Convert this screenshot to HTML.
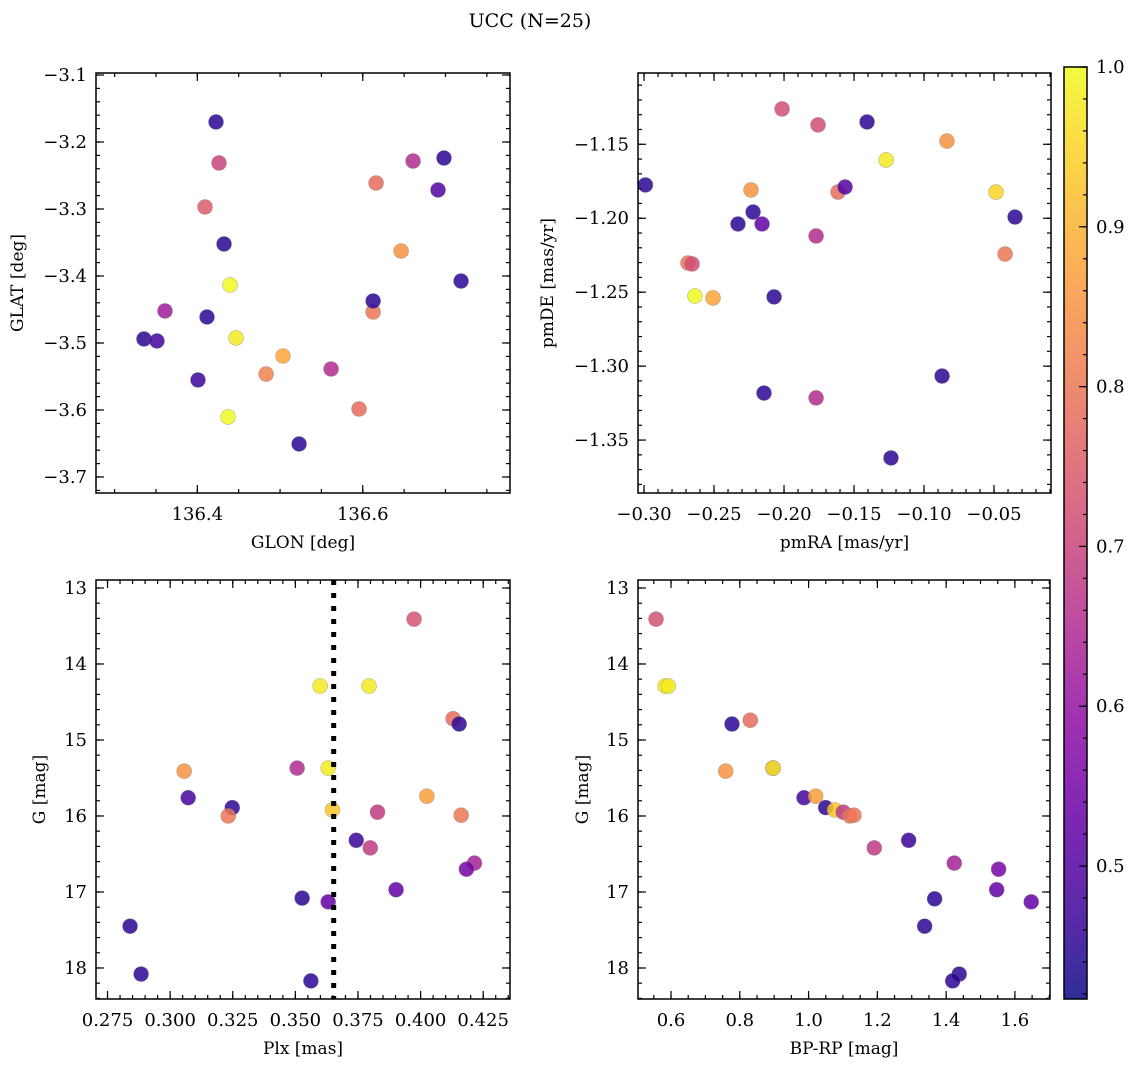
<!DOCTYPE html>
<html><head><meta charset="utf-8">
<style>
html,body{margin:0;padding:0;background:#fff;}
svg{display:block;font-family:"DejaVu Serif","Liberation Serif",serif;}
</style></head>
<body>
<svg id="fig" width="1136" height="1067" viewBox="0 0 1136 1067" xmlns="http://www.w3.org/2000/svg">
<text x="530" y="27" font-size="19" text-anchor="middle">UCC (N=25)</text>
</svg>
<script>
// ---- data ----
const glon = [136.4226,136.4262,136.4093,136.4323,136.4395,136.4117,136.4468,136.3609,136.3355,136.3512,136.4008,136.4371,136.4831,136.5036,136.5230,136.5617,136.5955,136.6125,136.6125,136.6161,136.6463,136.6608,136.6982,136.6910,136.7188];
const glat = [-3.1701,-3.2313,-3.2970,-3.3522,-3.4134,-3.4612,-3.4925,-3.4522,-3.4940,-3.4970,-3.5552,-3.6104,-3.5463,-3.5194,-3.6507,-3.5388,-3.5985,-3.4537,-3.4373,-3.2612,-3.3627,-3.2284,-3.2239,-3.2716,-3.4075];
const probA = [0.45,0.70,0.75,0.45,1.0,0.45,0.98,0.62,0.45,0.48,0.47,1.0,0.82,0.88,0.45,0.65,0.78,0.80,0.45,0.78,0.85,0.65,0.45,0.50,0.45];

const pmra = [-0.2990,-0.2329,-0.2221,-0.2157,-0.2236,-0.2686,-0.2657,-0.2636,-0.2507,-0.2071,-0.2143,-0.2014,-0.1757,-0.1771,-0.1771,-0.1614,-0.1564,-0.1407,-0.1271,-0.1236,-0.0836,-0.0871,-0.0486,-0.0421,-0.0350];
const pmde = [-1.1775,-1.2039,-1.1958,-1.2039,-1.1809,-1.2303,-1.2309,-1.2526,-1.2539,-1.2532,-1.3182,-1.1261,-1.1369,-1.2120,-1.3215,-1.1823,-1.1789,-1.1349,-1.1606,-1.3621,-1.1478,-1.3067,-1.1823,-1.2242,-1.1992];
const probB = [0.45,0.45,0.45,0.52,0.85,0.80,0.72,1.0,0.88,0.45,0.45,0.72,0.72,0.65,0.65,0.78,0.50,0.45,0.98,0.45,0.85,0.45,0.95,0.80,0.45];

const plx = [0.3974,0.3599,0.3794,0.4130,0.4154,0.3056,0.3507,0.3631,0.3072,0.4025,0.3248,0.3232,0.3648,0.3828,0.4162,0.3743,0.3799,0.4215,0.4183,0.3902,0.3527,0.3631,0.2840,0.2884,0.3562];
const gmagC = [13.41,14.29,14.29,14.72,14.79,15.41,15.37,15.37,15.76,15.74,15.89,16.00,15.92,15.95,15.99,16.32,16.42,16.62,16.70,16.97,17.08,17.13,17.45,18.08,18.17];
const probC = [0.73,0.98,0.98,0.78,0.45,0.85,0.65,0.98,0.48,0.87,0.45,0.80,0.93,0.68,0.80,0.47,0.68,0.63,0.55,0.52,0.45,0.52,0.45,0.45,0.45];
const plxRef = [0.3653];

const bprp = [0.5564,0.5826,0.5922,0.7773,0.8305,0.7590,0.8965,0.8970,0.9866,1.0206,1.0497,1.0758,1.1010,1.1203,1.1320,1.1910,1.2910,1.4236,1.5526,1.5470,1.3665,1.6474,1.3375,1.4380,1.4190];
const gmagD = [13.41,14.29,14.29,14.79,14.74,15.41,15.37,15.37,15.76,15.74,15.89,15.92,15.95,16.00,15.99,16.42,16.32,16.62,16.70,16.97,17.09,17.13,17.45,18.08,18.17];
const probD = [0.73,0.98,0.98,0.45,0.78,0.85,0.65,0.98,0.48,0.87,0.45,0.93,0.68,0.80,0.80,0.68,0.47,0.63,0.55,0.52,0.45,0.52,0.45,0.45,0.45];

const xTicksA = ["136.4","136.6"], yTicksA = ["−3.1","−3.2","−3.3","−3.4","−3.5","−3.6","−3.7"];
const xTicksB = ["−0.30","−0.25","−0.20","−0.15","−0.10","−0.05"], yTicksB = ["−1.15","−1.20","−1.25","−1.30","−1.35"];
const xTicksC = ["0.275","0.300","0.325","0.350","0.375","0.400","0.425"], yTicksC = ["13","14","15","16","17","18"];
const xTicksD = ["0.6","0.8","1.0","1.2","1.4","1.6"], yTicksD = ["13","14","15","16","17","18"];
const cbTicks = ["0.5","0.6","0.7","0.8","0.9","1.0"];

// ---- rendering ----
const NS="http://www.w3.org/2000/svg";
const svg=document.getElementById('fig');
const VMIN=0.4168, VMAX=1.0;
const FS=18;
const plasma=[[13,8,135],[65,4,157],[106,0,168],[143,13,164],[177,42,144],[204,71,120],[225,100,98],[242,132,75],[252,166,54],[252,206,37],[240,249,33]];
function cmap(v){let t=(v-VMIN)/(VMAX-VMIN);t=Math.max(0,Math.min(1,t));const f=t*10,i=Math.min(9,Math.floor(f)),u=f-i;const a=plasma[i],b=plasma[i+1];return 'rgb('+a.map((c,k)=>Math.round(c+(b[k]-c)*u)).join(',')+')';}
function mk(tag,at,parent){const e=document.createElementNS(NS,tag);for(const k in at)e.setAttribute(k,at[k]);(parent||svg).appendChild(e);return e;}
function num(s){return parseFloat(s.replace('−','-'));}

function panel(name,box,xd,yd,xt,yt,xminor,yminor,xs,ys,ps,xlabel,ylabel,invertY,ylx){
  const [L,T,R,B]=box;
  const g=mk('g',{});
  
  
  const sx=v=>L+(v-xd[0])/(xd[1]-xd[0])*(R-L);
  const sy=invertY? v=>T+(v-yd[0])/(yd[1]-yd[0])*(B-T) : v=>B-(v-yd[0])/(yd[1]-yd[0])*(B-T);
  const tg=mk('g',{stroke:'#000','stroke-width':1.2},g);
  
  
  const lo=Math.min(xd[0],xd[1]),hi=Math.max(xd[0],xd[1]);
  for(let v=Math.ceil(lo/xminor-1e-6)*xminor;v<=hi+1e-9;v+=xminor){const x=sx(v);mk('line',{x1:x,x2:x,y1:B,y2:B-4},tg);mk('line',{x1:x,x2:x,y1:T,y2:T+4},tg);}
  const ylo=Math.min(yd[0],yd[1]),yhi=Math.max(yd[0],yd[1]);
  for(let v=Math.ceil(ylo/yminor-1e-6)*yminor;v<=yhi+1e-9;v+=yminor){const y=sy(v);mk('line',{x1:L,x2:L+4,y1:y,y2:y},tg);mk('line',{x1:R,x2:R-4,y1:y,y2:y},tg);}
  xt.forEach(s=>{const x=sx(num(s));mk('line',{x1:x,x2:x,y1:B,y2:B-8},tg);mk('line',{x1:x,x2:x,y1:T,y2:T+8},tg);
    const t=mk('text',{x:x,y:B+27,'font-size':FS,'text-anchor':'middle'},g);t.textContent=s;
    
    });
  yt.forEach(s=>{const y=sy(num(s));mk('line',{x1:L,x2:L+8,y1:y,y2:y},tg);mk('line',{x1:R,x2:R-8,y1:y,y2:y},tg);
    const t=mk('text',{x:L-9,y:y+6,'font-size':FS,'text-anchor':'end'},g);t.textContent=s;
    
    });
  const pg=mk('g',{},g);
  
  
  xs.forEach((v,i)=>{const c=mk('circle',{cx:sx(v),cy:sy(ys[i]),r:7.5,fill:cmap(ps[i]),'fill-opacity':0.85,stroke:'#777','stroke-opacity':0.5,'stroke-width':0.6},pg);
    
    });
  const fr=mk('rect',{x:L,y:T,width:R-L,height:B-T,fill:'none',stroke:'#000','stroke-width':1.5},g);
  
  
  const xl=mk('text',{x:(L+R)/2,y:B+55,'font-size':17,'text-anchor':'middle'},g);xl.textContent=xlabel;
  
  
  const yl=mk('text',{x:0,y:0,'font-size':17,'text-anchor':'middle',transform:'translate('+ylx+','+((T+B)/2)+') rotate(-90)'},g);yl.textContent=ylabel;
  
  
  return {sx,sy,g};
}

panel('sky-panel',[96,73,510,493],[136.2775,136.778],[-3.7239,-3.0970],xTicksA,yTicksA,0.05,0.02,glon,glat,probA,'GLON [deg]','GLAT [deg]',false,23);
panel('pm-panel',[638,73,1051,493],[-0.3043,-0.0093],[-1.3858,-1.1018],xTicksB,yTicksB,0.01,0.01,pmra,pmde,probB,'pmRA [mas/yr]','pmDE [mas/yr]',false,553);
const pc=panel('plx-panel',[96,580,510,999],[0.2704,0.4357],[12.895,18.408],xTicksC,yTicksC,0.005,0.2,plx,gmagC,probC,'Plx [mas]','G [mag]',true,45);
panel('cmd-panel',[638,580,1050,999],[0.504,1.702],[12.895,18.408],xTicksD,yTicksD,0.05,0.2,bprp,gmagD,probD,'BP-RP [mag]','G [mag]',true,588);

plxRef.forEach(v=>{const x=pc.sx(v);const l=mk('line',{x1:x,x2:x,y1:580,y2:999,stroke:'#000','stroke-width':5,'stroke-dasharray':'5,8'},pc.g);
  
  });

// colorbar
const cb=mk('g',{});


const defs=mk('defs',{},cb);
const grad=mk('linearGradient',{id:'cbg',x1:0,y1:1,x2:0,y2:0},defs);
for(let k=0;k<=20;k++){const v=VMIN+(VMAX-VMIN)*k/20;mk('stop',{offset:k/20,'stop-color':cmap(v),'stop-opacity':0.85},grad);}
const CT=67,CB=999,CL=1064,CR=1087;
const cy=v=>CB-(v-VMIN)/(VMAX-VMIN)*(CB-CT);
const cr=mk('rect',{x:CL,y:CT,width:CR-CL,height:CB-CT,fill:'url(#cbg)',stroke:'#000','stroke-width':1.5},cb);


for(let v=0.42;v<=1.0001;v+=0.02){const y=cy(v);mk('line',{x1:CR,x2:CR-4,y1:y,y2:y,stroke:'#000','stroke-width':1.2},cb);}
cbTicks.forEach(s=>{const y=cy(num(s));mk('line',{x1:CR,x2:CR-8,y1:y,y2:y,stroke:'#000','stroke-width':1.2},cb);
  const t=mk('text',{x:CR+9,y:y+6,'font-size':FS},cb);t.textContent=s;
  
  });
</script>
</body></html>
